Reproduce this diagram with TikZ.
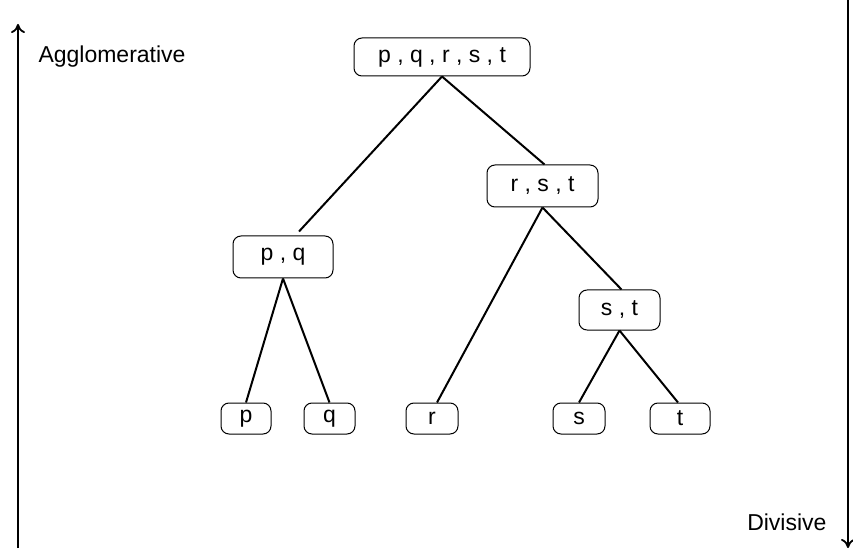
\documentclass[tikz,border=0pt]{standalone}
\usepackage{fontspec}
\setmainfont{Liberation Sans}
\usetikzlibrary{arrows.meta}
\tikzset{
  cluster/.style={draw, line width=1bp, rounded corners=8bp, inner sep=0pt, font=\fontsize{23bp}{26bp}\selectfont},
  link/.style={line width=2bp},
  axis/.style={line width=2bp, -{To[length=9bp,width=14bp,line width=1.8bp]}}
}
\begin{document}
\begin{tikzpicture}[x=1bp,y=-1bp,line join=bevel]
  \useasboundingbox (0,0) rectangle (853,554);
%%
  % Node: Root
  \node[cluster, minimum width=176bp, minimum height=38bp] (pqrst) at (442,57) {p , q , r , s , t};
  % Node: RST
  \node[cluster, minimum width=111bp, minimum height=42bp] (rst) at (542.5,186) {r , s , t};
  % Node: PQ
  \node[cluster, minimum width=100bp, minimum height=42bp] (pq) at (283,257) {p , q};
  % Node: ST
  \node[cluster, minimum width=81bp, minimum height=40bp] (st) at (619.5,310) {s , t};
  % Node: leaves
  \node[cluster, minimum width=50bp, minimum height=31bp] (p) at (246,418.5) {p};
  \node[cluster, minimum width=51bp, minimum height=31bp] (q) at (329.5,418.5) {q};
  \node[cluster, minimum width=52bp, minimum height=31bp] (r) at (432,418.5) {r};
  \node[cluster, minimum width=52bp, minimum height=31bp] (s) at (579,418.5) {s};
  \node[cluster, minimum width=60bp, minimum height=31bp] (t) at (680,418.5) {t};
  % Edge: Root -> PQ
  \draw[link] (pqrst.south) -- ([xshift=16bp,yshift=4bp]pq.north);
  % Edge: Root -> RST
  \draw[link] (pqrst.south) -- ([xshift=2bp]rst.north);
  % Edge: RST -> R
  \draw[link] (rst.south) -- ([xshift=5bp]r.north);
  % Edge: RST -> ST
  \draw[link] (rst.south) -- ([xshift=2bp]st.north);
  % Edge: PQ -> P
  \draw[link] (pq.south) -- (p.north);
  % Edge: PQ -> Q
  \draw[link] (pq.south) -- (q.north);
  % Edge: ST -> S
  \draw[link] (st.south) -- (s.north);
  % Edge: ST -> T
  \draw[link] (st.south) -- ([xshift=-2bp]t.north);
  % Axes
  \coordinate (abot) at (18,548);
  \coordinate (atop) at (18,24);
  \coordinate (dtop) at (848,0);
  \coordinate (dbot) at (848,548);
  \draw[axis] (abot) -- (atop);
  \draw[axis] (dtop) -- (dbot);
  \node[font=\fontsize{23bp}{26bp}\selectfont, anchor=west] (agg) at (35,57) {Agglomerative};
  \node[font=\fontsize{23bp}{26bp}\selectfont, anchor=east] (div) at (830,522) {Divisive};
%
\end{tikzpicture}
\end{document}
